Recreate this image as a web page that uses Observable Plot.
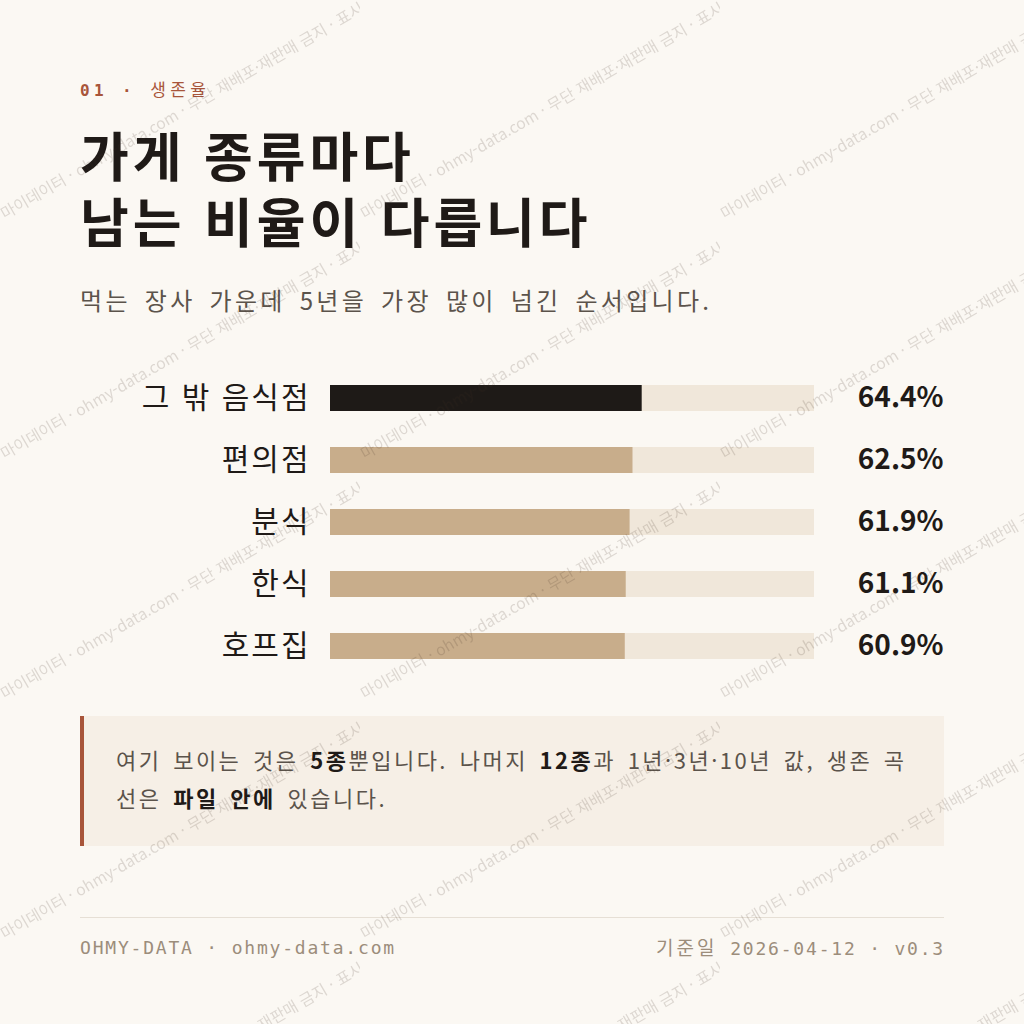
<!DOCTYPE html>
<html lang="ko">
<head>
<meta charset="utf-8">
<script src="https://cdn.jsdelivr.net/npm/d3@7"></script>
<script src="https://cdn.jsdelivr.net/npm/@observablehq/plot@0.6"></script>
<style>
  html, body { margin:0; padding:0; background:#FBF8F3; }
  #page { position:relative; width:1024px; height:1024px; overflow:hidden; background:#FBF8F3;
          font-family:"Noto Sans CJK KR","Noto Sans",sans-serif; color:#1F1A17; }
  .abs { position:absolute; white-space:nowrap; }
  #kicker { left:80px; top:82px; font-family:"DejaVu Sans Mono","Noto Sans CJK KR",monospace; font-size:16px;
            line-height:1; letter-spacing:4.4px; color:#A8553A; }
  #kicker .num { font-weight:700; }
  #kicker .lab { font-weight:400; font-size:17px; }
  .title { left:80px; font-size:53px; line-height:66px; height:66px; overflow:visible; font-weight:700; color:#1F1A17; letter-spacing:3.9px; }
  #title1 { top:121px; }
  #title2 { top:187px; }
  #subtitle { left:80px; top:288px; font-size:24px; line-height:1; color:#5B534B; word-spacing:4px; letter-spacing:3.3px; }
  #chart { left:0; top:367px; }
  #chart g[aria-label="y-axis tick label"] text { letter-spacing:2px; }
  #note { left:80px; top:716px; width:828px; height:106px; padding:24px 0 0 32px; background:#F6EFE6;
          border-left:4px solid #A8553A; font-size:22px; line-height:38px; color:#5B534B; word-spacing:3px; letter-spacing:2.5px; box-sizing:content-box; }
  #note b { color:#1F1A17; font-weight:700; }
  #rule { left:80px; top:917px; width:864px; height:1px; background:#E6DFD5; }
  .foot { top:939px; font-family:"DejaVu Sans Mono","Noto Sans CJK KR",monospace; font-size:18px; line-height:1;
          letter-spacing:1.8px; color:#9C8D7B; }
  #footL { left:80px; }
  #footR { right:79px; }
  #footR .ko { font-size:19px; letter-spacing:3px; }
  #wm { position:absolute; left:0; top:0; pointer-events:none; }
</style>
</head>
<body>
<div id="page">
  <div id="kicker" class="abs"></div>
  <div id="title1" class="abs title"></div>
  <div id="title2" class="abs title"></div>
  <div id="subtitle" class="abs"></div>
  <div id="chart" class="abs"></div>
  <div id="note" class="abs"></div>
  <div id="rule" class="abs"></div>
  <div id="footL" class="abs foot"></div>
  <div id="footR" class="abs foot"></div>
  <svg id="wm" width="1024" height="1024">
    <defs>
      <pattern id="wmPattern" patternUnits="userSpaceOnUse" width="360" height="240">
        <text id="wmText" font-family="Noto Sans CJK KR" fill="#3C2D1E" fill-opacity="0.16"></text>
      </pattern>
    </defs>
    <text id="wmProbe" font-family="Noto Sans CJK KR" font-size="15" fill="none" x="-2000" y="-2000"></text>
    <rect width="1024" height="1024" fill="url(#wmPattern)"></rect>
  </svg>
</div>
<script>
// ---- data ----
const kickerNum = "01 ·";
const kickerLabel = "생존율";
const titleLines = ["가게 종류마다", "남는 비율이 다릅니다"];
const subtitle = "먹는 장사 가운데 5년을 가장 많이 넘긴 순서입니다.";
const categories = ["그 밖 음식점", "편의점", "분식", "한식", "호프집"];
const survival5y = [64.4, 62.5, 61.9, 61.1, 60.9];
const valueLabels = ["64.4%", "62.5%", "61.9%", "61.1%", "60.9%"];
const trackMax = [100, 100, 100, 100, 100];
const highlighted = ["그 밖 음식점"];
const noteHtml = "여기 보이는 것은 <b>5종</b>뿐입니다. 나머지 <b>12종</b>과 1년·3년·10년 값, 생존 곡<br>선은 <b>파일 안에</b> 있습니다.";
const footerLeft = "OHMY-DATA · ohmy-data.com";
const footerRightLabel = "기준일";
const footerRightValue = "2026-04-12 · v0.3";
const watermarkPrefix = "· ";
const watermarkBody = "마이데이터 · ohmy-data.com · 무단 재배포·재판매 금지 · 표시";

// ---- text ----
document.getElementById("kicker").innerHTML =
  `<span class="num">${kickerNum}</span> <span class="lab">${kickerLabel}</span>`;
document.getElementById("title1").textContent = titleLines[0];
document.getElementById("title2").textContent = titleLines[1];
document.getElementById("subtitle").textContent = subtitle;
document.getElementById("note").innerHTML = noteHtml;
document.getElementById("footL").textContent = footerLeft;
document.getElementById("footR").innerHTML = `<span class="ko">${footerRightLabel}</span> ${footerRightValue}`;

// ---- watermark tile (size the text so the site name spans ~117px, "마" starts at tile edge) ----
const probe = document.getElementById("wmProbe");
probe.textContent = "ohmy-data.com";
const baseLen = probe.getComputedTextLength() || 107;
const wmSize = 15 * 116.6 / baseLen;
probe.setAttribute("font-size", wmSize);
probe.textContent = watermarkPrefix;
const preLen = probe.getComputedTextLength() || wmSize * 0.5;
const ang = 30 * Math.PI / 180;
const wmText = document.getElementById("wmText");
wmText.setAttribute("font-size", wmSize);
wmText.textContent = watermarkPrefix + watermarkBody;
wmText.setAttribute("transform",
  `translate(${1 - preLen * Math.cos(ang)},${222 + preLen * Math.sin(ang)}) rotate(-30)`);

// ---- chart ----
const rows = categories.map((c, i) => ({
  category: c,
  value: survival5y[i],
  track: trackMax[i],
  label: valueLabels[i],
  color: highlighted.includes(c) ? "#1E1A17" : "#C8AD8B"
}));

const chart = Plot.plot({
  width: 1024,
  height: 310,
  marginLeft: 330,
  marginRight: 210,
  marginTop: 0,
  marginBottom: 0,
  style: { background: "transparent", fontFamily: "'Noto Sans CJK KR', sans-serif", color: "#1F1A17", overflow: "visible" },
  x: { domain: [0, 100], axis: null },
  y: { domain: categories, paddingInner: 0.58, paddingOuter: 0.29, axis: null },
  marks: [
    Plot.barX(rows, { y: "category", x1: 0, x2: "track", fill: "#F0E7DA" }),
    Plot.barX(rows, { y: "category", x1: 0, x2: "value", fill: "color" }),
    Plot.text(rows, { y: "category", x: "track", text: "label", textAnchor: "end", dx: 129,
                      fontSize: 28, fontWeight: 700, fill: "#1F1A17" }),
    Plot.axisY({ tickSize: 0, tickPadding: 20, fontSize: 30, label: null, fill: "#1F1A17" })
  ]
});
document.getElementById("chart").appendChild(chart);
</script>
</body>
</html>
